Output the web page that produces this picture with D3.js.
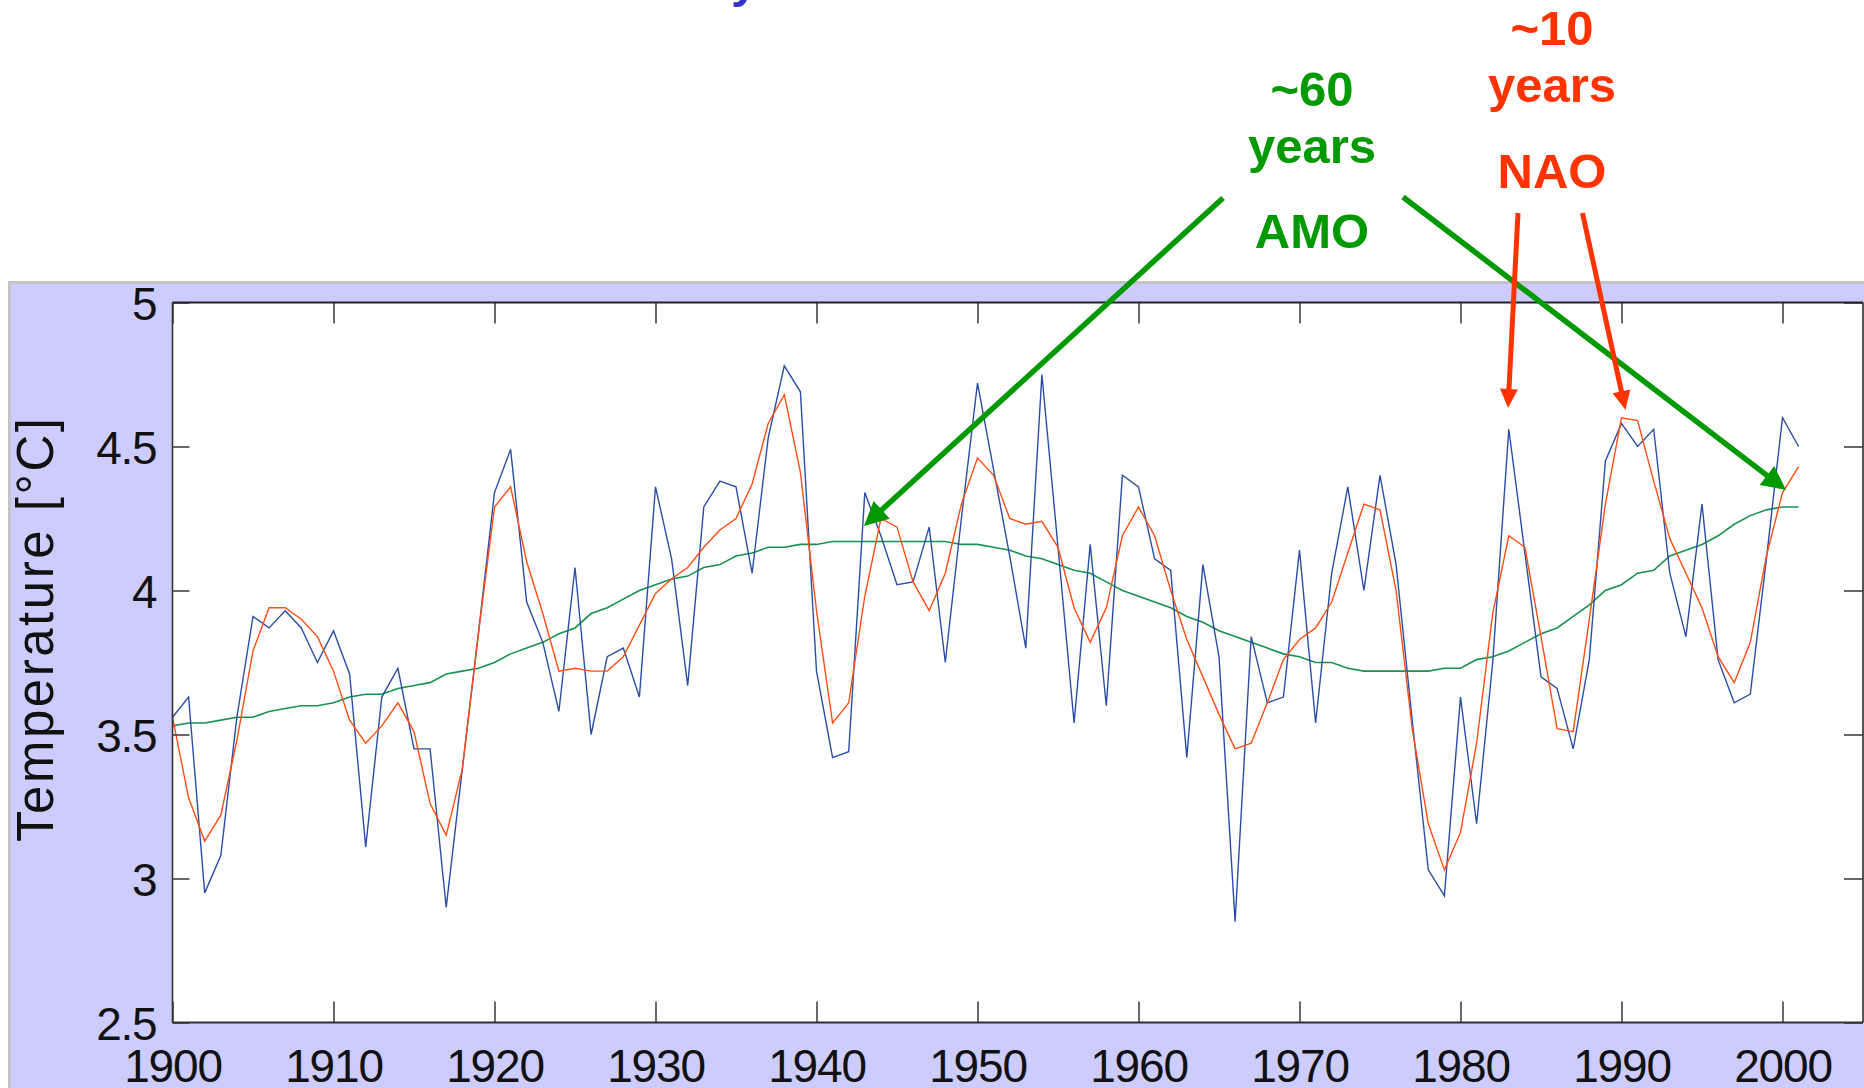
<!DOCTYPE html>
<html>
<head>
<meta charset="utf-8">
<script src="https://cdn.jsdelivr.net/npm/d3@7"></script>
<style>
  html, body { margin: 0; padding: 0; background: #ffffff; }
  svg { display: block; }
  text { font-family: "Liberation Sans", Arial, Helvetica, sans-serif; }
</style>
</head>
<body>
<svg id="chart" width="1864" height="1088"></svg>
<script>
// ---------------- DATA ----------------
const years = d3.range(1900, 2002);

// annual temperature (blue)
const annualTemp = [
  3.56, 3.63, 2.95, 3.08, 3.56, 3.91, 3.87, 3.93, 3.87, 3.75,
  3.86, 3.71, 3.11, 3.63, 3.73, 3.45, 3.45, 2.90, 3.38, 3.85,
  4.34, 4.49, 3.96, 3.82, 3.58, 4.08, 3.50, 3.77, 3.80, 3.63,
  4.36, 4.11, 3.67, 4.29, 4.38, 4.36, 4.06, 4.53, 4.78, 4.69,
  3.72, 3.42, 3.44, 4.34, 4.19, 4.02, 4.03, 4.22, 3.75, 4.25,
  4.72, 4.42, 4.12, 3.80, 4.75, 4.15, 3.54, 4.16, 3.60, 4.40,
  4.36, 4.11, 4.07, 3.42, 4.09, 3.77, 2.85, 3.84, 3.61, 3.63,
  4.14, 3.54, 4.06, 4.36, 4.00, 4.40, 4.09, 3.55, 3.03, 2.94,
  3.63, 3.19, 3.75, 4.56, 4.13, 3.70, 3.66, 3.45, 3.76, 4.45,
  4.58, 4.50, 4.56, 4.06, 3.84, 4.30, 3.76, 3.61, 3.64, 4.11,
  4.60, 4.50
];

// ~10 year (NAO) smoothed (orange)
const naoSmooth = [
  3.56, 3.28, 3.13, 3.22, 3.48, 3.79, 3.94, 3.94, 3.90, 3.84,
  3.72, 3.55, 3.47, 3.53, 3.61, 3.51, 3.26, 3.15, 3.38, 3.85,
  4.29, 4.36, 4.10, 3.92, 3.72, 3.73, 3.72, 3.72, 3.77, 3.88,
  3.99, 4.04, 4.08, 4.15, 4.21, 4.25, 4.37, 4.58, 4.68, 4.41,
  3.93, 3.54, 3.61, 3.98, 4.25, 4.22, 4.03, 3.93, 4.06, 4.30,
  4.46, 4.40, 4.25, 4.23, 4.24, 4.15, 3.94, 3.82, 3.94, 4.19,
  4.29, 4.19, 4.00, 3.83, 3.70, 3.57, 3.45, 3.47, 3.61, 3.76,
  3.83, 3.87, 3.96, 4.13, 4.30, 4.28, 4.00, 3.52, 3.19, 3.03,
  3.16, 3.47, 3.92, 4.19, 4.15, 3.84, 3.52, 3.51, 3.90, 4.30,
  4.60, 4.59, 4.38, 4.18, 4.06, 3.94, 3.77, 3.68, 3.82, 4.12,
  4.34, 4.43
];

// ~60 year (AMO) smoothed (green)
const amoSmooth = [
  3.53, 3.54, 3.54, 3.55, 3.56, 3.56, 3.58, 3.59, 3.60, 3.60,
  3.61, 3.63, 3.64, 3.64, 3.66, 3.67, 3.68, 3.71, 3.72, 3.73,
  3.75, 3.78, 3.80, 3.82, 3.85, 3.87, 3.92, 3.94, 3.97, 4.00,
  4.02, 4.04, 4.05, 4.08, 4.09, 4.12, 4.13, 4.15, 4.15, 4.16,
  4.16, 4.17, 4.17, 4.17, 4.17, 4.17, 4.17, 4.17, 4.17, 4.16,
  4.16, 4.15, 4.14, 4.12, 4.11, 4.09, 4.07, 4.06, 4.03, 4.00,
  3.98, 3.96, 3.94, 3.91, 3.89, 3.86, 3.84, 3.82, 3.80, 3.78,
  3.77, 3.75, 3.75, 3.73, 3.72, 3.72, 3.72, 3.72, 3.72, 3.73,
  3.73, 3.76, 3.77, 3.79, 3.82, 3.85, 3.87, 3.91, 3.95, 4.00,
  4.02, 4.06, 4.07, 4.12, 4.14, 4.16, 4.19, 4.23, 4.26, 4.28,
  4.29, 4.29
];

const xTickValues = [1900, 1910, 1920, 1930, 1940, 1950, 1960, 1970, 1980, 1990, 2000];
const yTickValues = [2.5, 3, 3.5, 4, 4.5, 5];
const yTickLabels = ["2.5", "3", "3.5", "4", "4.5", "5"];
const yAxisTitle = "Temperature [\u00B0C]";

const amoLabels = ["~60", "years", "AMO"];
const naoLabels = ["~10", "years", "NAO"];

// ---------------- LAYOUT ----------------
const W = 1864, H = 1088;
const plot = { left: 172.5, right: 1863, top: 302.5, bottom: 1022.5 };
const colors = {
  panel: "#ccccff",
  panelBorder: "#c4c4c4",
  blue: "#2a4ea6",
  orange: "#ff4d14",
  green: "#17924d",
  amo: "#009900",
  nao: "#ff3300",
  title: "#3333cc"
};

const svg = d3.select("#chart");
svg.append("rect").attr("x", 0).attr("y", 0).attr("width", W).attr("height", H).attr("fill", "#ffffff");

// partial title remnant at top (cut off)
svg.append("text")
  .attr("x", 731).attr("y", -3)
  .attr("font-size", 49).attr("font-weight", "bold")
  .attr("fill", colors.title)
  .text("y");

// panel
svg.append("rect")
  .attr("x", 9.5).attr("y", 282.5)
  .attr("width", W + 10).attr("height", H)
  .attr("fill", colors.panel)
  .attr("stroke", colors.panelBorder).attr("stroke-width", 3);

// plot area
svg.append("rect")
  .attr("x", plot.left).attr("y", plot.top)
  .attr("width", plot.right - plot.left).attr("height", plot.bottom - plot.top)
  .attr("fill", "#ffffff");

const x = d3.scaleLinear().domain([1900, 2005]).range([plot.left, plot.right]);
const y = d3.scaleLinear().domain([2.5, 5]).range([plot.bottom, plot.top]);

// data lines
function series(vals) { return years.map((yr, i) => [yr, vals[i]]); }
const line = d3.line().x(d => x(d[0])).y(d => y(d[1]));

const g = svg.append("g");
g.append("path").datum(series(amoSmooth)).attr("d", line)
  .attr("fill", "none").attr("stroke", colors.green).attr("stroke-width", 1.6);
g.append("path").datum(series(annualTemp)).attr("d", line)
  .attr("fill", "none").attr("stroke", colors.blue).attr("stroke-width", 1.4);
g.append("path").datum(series(naoSmooth)).attr("d", line)
  .attr("fill", "none").attr("stroke", colors.orange).attr("stroke-width", 1.4);

// axes
const tickColor = "#444";
const xAxisB = d3.axisBottom(x).tickValues(xTickValues).tickSize(-21).tickFormat(d3.format("d"));
const gxb = svg.append("g").attr("transform", `translate(0,${plot.bottom})`).call(xAxisB);
gxb.select(".domain").remove();
gxb.selectAll(".tick line").attr("stroke", tickColor).attr("stroke-width", 1.6);
gxb.selectAll(".tick text")
  .attr("y", 59).attr("dy", null)
  .attr("font-size", 46).attr("fill", "#111")
  .attr("letter-spacing", "-1.2px")
  .attr("font-family", "Liberation Sans, Arial, sans-serif");

const xAxisT = d3.axisTop(x).tickValues(xTickValues).tickSize(-21).tickFormat("");
const gxt = svg.append("g").attr("transform", `translate(0,${plot.top})`).call(xAxisT);
gxt.select(".domain").remove();
gxt.selectAll(".tick line").attr("stroke", tickColor).attr("stroke-width", 1.6);

const yAxisL = d3.axisLeft(y).tickValues(yTickValues).tickSize(-17)
  .tickFormat((d, i) => yTickLabels[i]);
const gyl = svg.append("g").attr("transform", `translate(${plot.left},0)`).call(yAxisL);
gyl.select(".domain").remove();
gyl.selectAll(".tick line").attr("stroke", tickColor).attr("stroke-width", 1.6);
gyl.selectAll(".tick text")
  .attr("x", -16).attr("dy", "0.36em")
  .attr("font-size", 46).attr("fill", "#111")
  .attr("letter-spacing", "-1.2px")
  .attr("font-family", "Liberation Sans, Arial, sans-serif");

const yAxisR = d3.axisRight(y).tickValues(yTickValues).tickSize(-19).tickFormat("");
const gyr = svg.append("g").attr("transform", `translate(${plot.right},0)`).call(yAxisR);
gyr.select(".domain").remove();
gyr.selectAll(".tick line").attr("stroke", tickColor).attr("stroke-width", 1.6);

// frame
svg.append("line").attr("x1", plot.left).attr("x2", plot.right).attr("y1", plot.top).attr("y2", plot.top)
  .attr("stroke", "#222").attr("stroke-width", 2.2);
svg.append("line").attr("x1", plot.left).attr("x2", plot.right).attr("y1", plot.bottom).attr("y2", plot.bottom)
  .attr("stroke", "#333").attr("stroke-width", 1.8);
svg.append("line").attr("x1", plot.left).attr("x2", plot.left).attr("y1", plot.top).attr("y2", plot.bottom)
  .attr("stroke", "#333").attr("stroke-width", 1.6);
svg.append("line").attr("x1", plot.right).attr("x2", plot.right).attr("y1", plot.top).attr("y2", plot.bottom)
  .attr("stroke", "#333").attr("stroke-width", 1.6);

// y axis title
svg.append("text")
  .attr("transform", "translate(53,630) rotate(-90)")
  .attr("text-anchor", "middle")
  .attr("font-size", 51).attr("fill", "#111")
  .attr("textLength", 424).attr("lengthAdjust", "spacing")
  .text(yAxisTitle);

// annotations
function arrow(x1, y1, x2, y2, color, width, headLen, headHalf) {
  const dx = x2 - x1, dy = y2 - y1;
  const L = Math.hypot(dx, dy);
  const ux = dx / L, uy = dy / L;
  const bx = x2 - ux * headLen, by = y2 - uy * headLen;
  svg.append("line").attr("x1", x1).attr("y1", y1).attr("x2", bx + ux * 2).attr("y2", by + uy * 2)
    .attr("stroke", color).attr("stroke-width", width);
  const px = -uy, py = ux;
  svg.append("polygon")
    .attr("points", [[x2, y2], [bx + px * headHalf, by + py * headHalf], [bx - px * headHalf, by - py * headHalf]]
      .map(p => p.join(",")).join(" "))
    .attr("fill", color);
}

arrow(1223, 198, 864, 526, colors.amo, 5.5, 24, 12);
arrow(1403, 197, 1786, 490, colors.amo, 5.5, 24, 12);
arrow(1518, 213, 1508, 408, colors.nao, 5, 19, 9);
arrow(1582.5, 213, 1625.5, 410, colors.nao, 5, 19, 9);

function label(lines, cx, baselines, color) {
  lines.forEach((t, i) => {
    svg.append("text")
      .attr("x", cx).attr("y", baselines[i])
      .attr("text-anchor", "middle")
      .attr("font-size", 49).attr("font-weight", "bold")
      .attr("fill", color)
      .text(t);
  });
}
label(amoLabels, 1312, [106, 163, 248], colors.amo);
label(naoLabels, 1552, [45, 102, 188], colors.nao);
</script>
</body>
</html>
